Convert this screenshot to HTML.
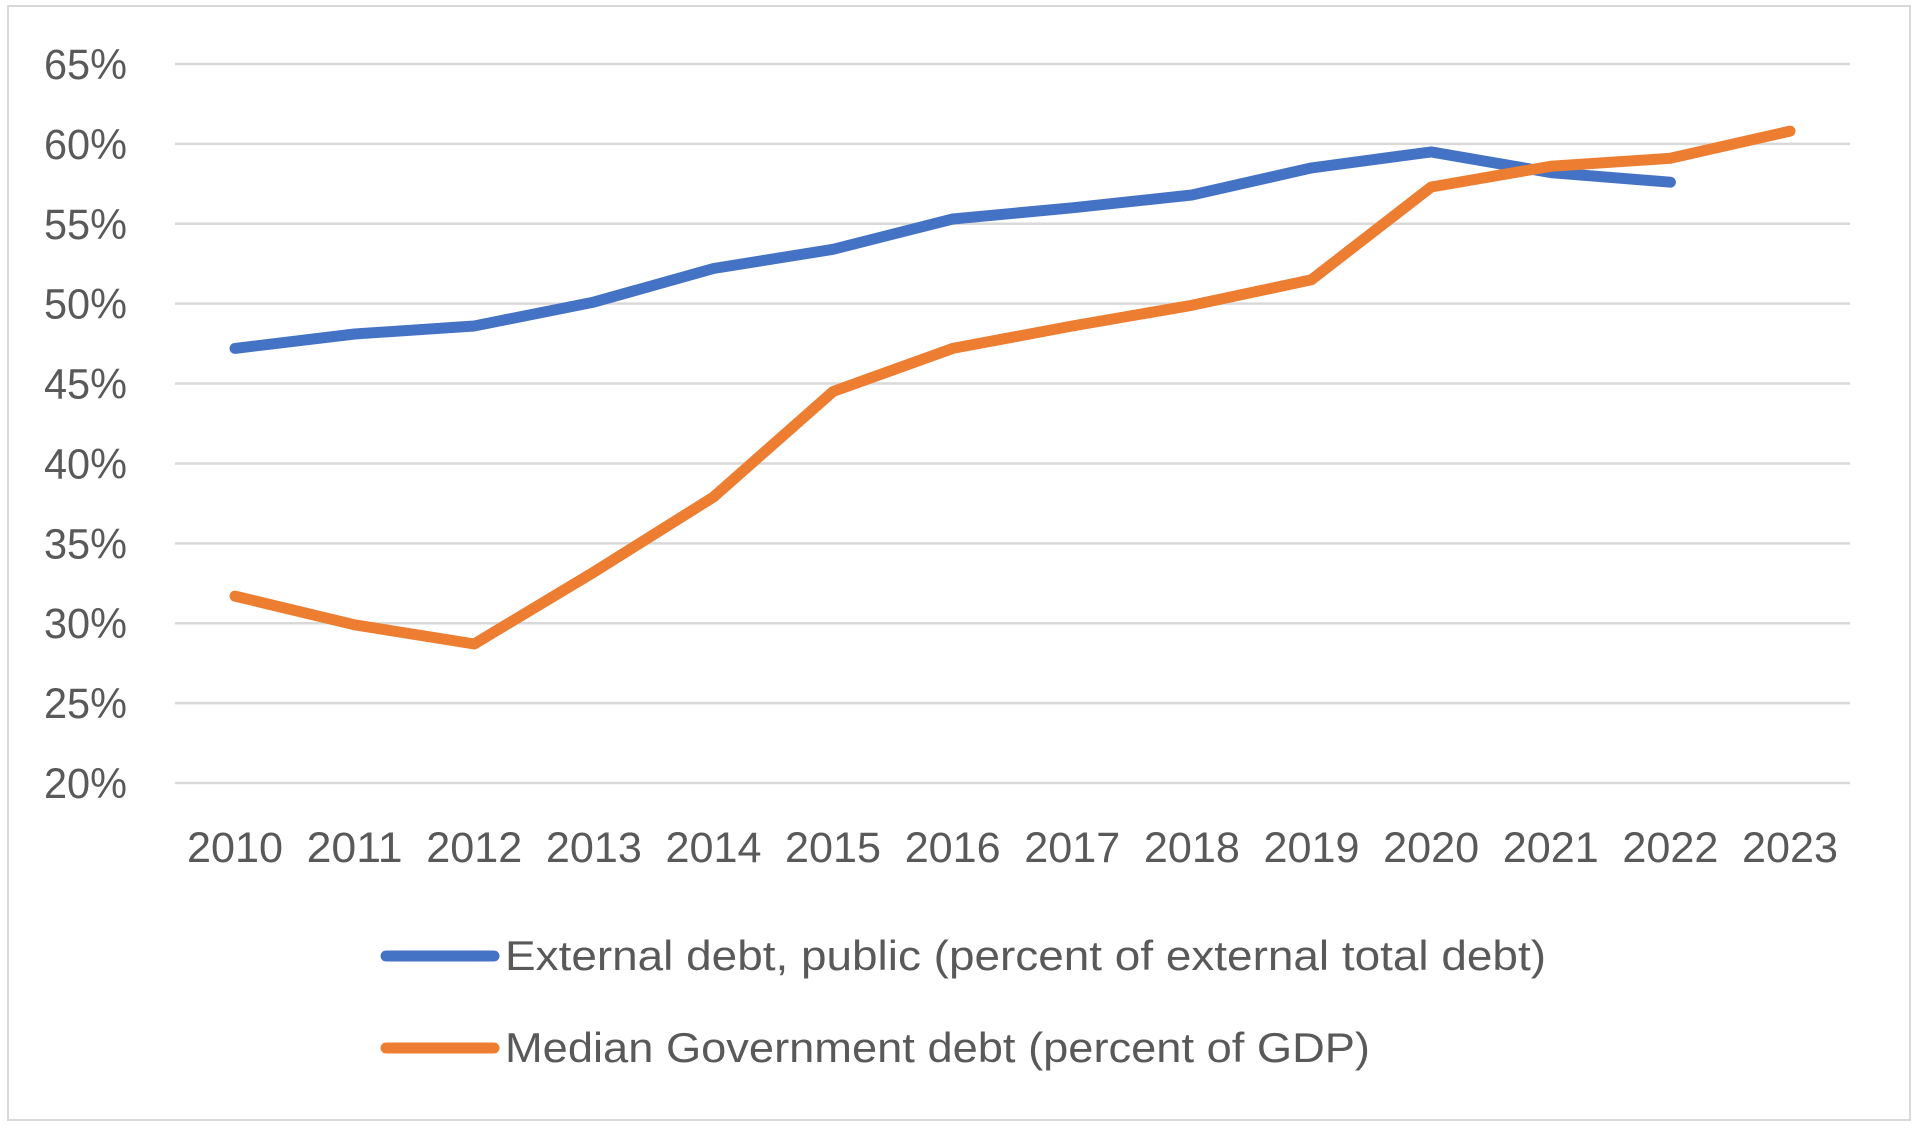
<!DOCTYPE html>
<html><head><meta charset="utf-8"><style>
html,body{margin:0;padding:0;background:#fff;}
svg{display:block;font-family:"Liberation Sans",sans-serif;}
</style></head><body>
<svg id="chart" width="1920" height="1131" viewBox="0 0 1920 1131">
<rect x="8" y="6" width="1902" height="1114" fill="#fff" stroke="#d9d9d9" stroke-width="2"/>
<g id="grid"></g>
<g id="ylab"></g>
<g id="xlab"></g>
<g id="series"></g>
<g>
<g>
<line x1="386" y1="956" x2="494" y2="956" stroke="#4472C4" stroke-width="11" stroke-linecap="round"/>
<text x="505" y="970" font-size="42" fill="#595959" textLength="1041" lengthAdjust="spacingAndGlyphs">External debt, public (percent of external total debt)</text>
</g>
<g>
<line x1="386" y1="1048" x2="494" y2="1048" stroke="#ED7D31" stroke-width="11" stroke-linecap="round"/>
<text x="505" y="1062" font-size="42" fill="#595959" textLength="865" lengthAdjust="spacingAndGlyphs">Median Government debt (percent of GDP)</text>
</g>
</g>
</svg>
<script>
const years = ["2010","2011","2012","2013","2014","2015","2016","2017","2018","2019","2020","2021","2022","2023"];
const externalDebt = [47.2,48.1,48.6,50.1,52.2,53.4,55.3,56.0,56.8,58.5,59.5,58.2,57.6,null];
const medianGovDebt = [31.7,29.9,28.7,33.2,37.9,44.5,47.2,48.6,49.9,51.5,57.3,58.6,59.1,60.8];
const yTicks = [20,25,30,35,40,45,50,55,60,65];
const NS="http://www.w3.org/2000/svg";
const L=175,R=1850,T=64,B=783,yMin=20,yMax=65;
const x0=235,dx=(1790-235)/13;
function xs(i){return x0+i*dx;}
function ys(v){return B-(v-yMin)/(yMax-yMin)*(B-T);}
const grid=document.getElementById('grid'),ylab=document.getElementById('ylab'),xlab=document.getElementById('xlab'),ser=document.getElementById('series');
yTicks.forEach(t=>{
  const l=document.createElementNS(NS,'line');
  l.setAttribute('x1',L);l.setAttribute('x2',R);l.setAttribute('y1',ys(t));l.setAttribute('y2',ys(t));
  l.setAttribute('stroke','#d9d9d9');l.setAttribute('stroke-width','2.5');
  
  
  grid.appendChild(l);
  const tx=document.createElementNS(NS,'text');
  tx.setAttribute('x',127);tx.setAttribute('y',ys(t)+15);tx.setAttribute('text-anchor','end');
  tx.setAttribute('font-size','43');tx.setAttribute('fill','#595959');
  tx.setAttribute('textLength','83');tx.setAttribute('lengthAdjust','spacingAndGlyphs');
  tx.textContent=t+'%';
  
  
  ylab.appendChild(tx);
});
years.forEach((y,i)=>{
  const tx=document.createElementNS(NS,'text');
  tx.setAttribute('x',xs(i));tx.setAttribute('y',862);tx.setAttribute('text-anchor','middle');
  tx.setAttribute('font-size','43');tx.setAttribute('fill','#595959');
  tx.setAttribute('textLength','96');tx.setAttribute('lengthAdjust','spacingAndGlyphs');
  tx.textContent=y;
  
  
  xlab.appendChild(tx);
});
function drawLine(vals,color,name){
  const pts=[];vals.forEach((v,i)=>{if(v!==null&&v!==undefined)pts.push(xs(i).toFixed(1)+','+ys(v).toFixed(1));});
  const p=document.createElementNS(NS,'polyline');
  p.setAttribute('points',pts.join(' '));p.setAttribute('fill','none');p.setAttribute('stroke',color);
  p.setAttribute('stroke-width','11');p.setAttribute('stroke-linejoin','round');p.setAttribute('stroke-linecap','round');
  
  
  ser.appendChild(p);
}
drawLine(externalDebt,'#4472C4','external-debt-line');
drawLine(medianGovDebt,'#ED7D31','median-government-debt-line');
</script>
</body></html>
